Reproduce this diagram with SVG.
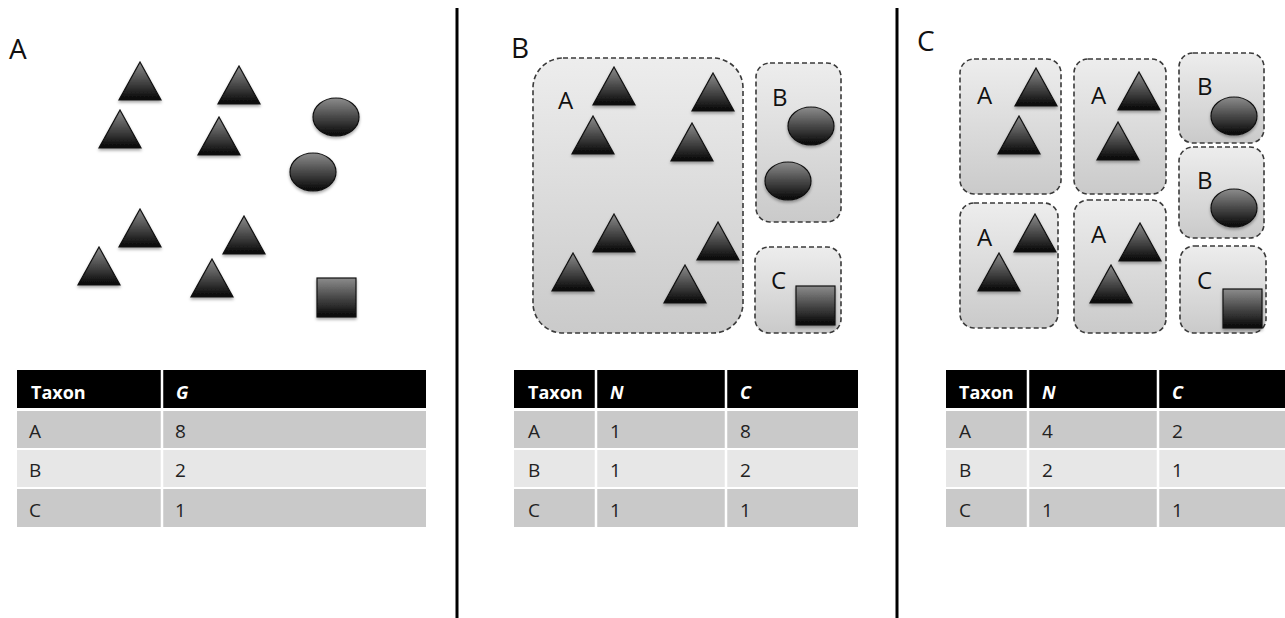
<svg xmlns="http://www.w3.org/2000/svg" xmlns:xlink="http://www.w3.org/1999/xlink" width="1285" height="618" viewBox="0 0 1285 618">
<defs>
<linearGradient id="gShape" x1="0" y1="0" x2="0" y2="1">
<stop offset="0" stop-color="#8c8c8c"/>
<stop offset="1" stop-color="#050505"/>
</linearGradient>
<linearGradient id="gBox" x1="0" y1="0" x2="0" y2="1">
<stop offset="0" stop-color="#ededed"/>
<stop offset="1" stop-color="#cacaca"/>
</linearGradient>
<filter id="sh" x="-20%" y="-20%" width="140%" height="150%">
<feDropShadow dx="0" dy="2" stdDeviation="1.5" flood-color="#000" flood-opacity="0.35"/>
</filter>
<path id="tri" d="M21,0 L42,38 L0,38 Z"/>
<ellipse id="ell" cx="0" cy="0" rx="23" ry="19"/>
<rect id="sq" x="0" y="0" width="39" height="39"/>
</defs>
<style>
.shape{fill:url(#gShape);stroke:#111;stroke-width:1.2;filter:url(#sh)}
.box{fill:url(#gBox);stroke:#3a3a3a;stroke-width:1.6;stroke-dasharray:5 3}
.lbl{font-family:"Open Sans","Liberation Sans",sans-serif;font-size:28px;fill:#111}
.blbl{font-family:"Open Sans","Liberation Sans",sans-serif;font-size:24px;fill:#111}
.th{font-family:"Open Sans","Liberation Sans",sans-serif;font-size:18px;font-weight:bold;fill:#fff}
.thi{font-family:"Open Sans","Liberation Sans",sans-serif;font-size:18px;font-weight:bold;font-style:italic;fill:#fff}
.td{font-family:"Open Sans","Liberation Sans",sans-serif;font-size:19px;fill:#222}
.hdr{fill:#000}
.r1{fill:#c9c9c9}
.r2{fill:#e7e7e7}
.sep{stroke:#fff;stroke-width:2.5}
.div{stroke:#000;stroke-width:3}
</style>
<rect width="1285" height="618" fill="#fff"/>

<g id="dividers">
<line class="div" x1="457" y1="8" x2="457" y2="618"/>
<line class="div" x1="897" y1="8" x2="897" y2="618"/>
</g>

<g id="panelA">
<text class="lbl" x="9" y="59">A</text>
<g id="panelA-shapes">
<use class="shape" href="#tri" x="119" y="62"/>
<use class="shape" href="#tri" x="218" y="66"/>
<use class="shape" href="#tri" x="99" y="110"/>
<use class="shape" href="#tri" x="198" y="117"/>
<use class="shape" href="#tri" x="119" y="209"/>
<use class="shape" href="#tri" x="223" y="216"/>
<use class="shape" href="#tri" x="78" y="247"/>
<use class="shape" href="#tri" x="191" y="259"/>
<use class="shape" href="#ell" x="336" y="117"/>
<use class="shape" href="#ell" x="313" y="172"/>
<use class="shape" href="#sq" x="317" y="278"/>
</g>
<g id="tableA">
<rect class="hdr" x="17" y="370" width="409" height="38"/>
<rect class="r1" x="17" y="411" width="409" height="37"/>
<rect class="r2" x="17" y="450" width="409" height="37"/>
<rect class="r1" x="17" y="489" width="409" height="38"/>
<line class="sep" x1="162" y1="370" x2="162" y2="527"/>
<text class="th" x="31" y="399">Taxon</text>
<text class="thi" x="176" y="399">G</text>
<text class="td" x="29" y="438">A</text><text class="td" x="175" y="438">8</text>
<text class="td" x="29" y="477">B</text><text class="td" x="175" y="477">2</text>
<text class="td" x="29" y="517">C</text><text class="td" x="175" y="517">1</text>
</g>
</g>

<g id="panelB">
<text class="lbl" x="511" y="58">B</text>
<g id="groupB-A">
<rect class="box" x="533" y="58" width="210" height="275" rx="30" ry="30"/>
<text class="blbl" x="558" y="109">A</text>
<use class="shape" href="#tri" x="593" y="67"/>
<use class="shape" href="#tri" x="692" y="73"/>
<use class="shape" href="#tri" x="572" y="116"/>
<use class="shape" href="#tri" x="671" y="123"/>
<use class="shape" href="#tri" x="593" y="214"/>
<use class="shape" href="#tri" x="697" y="222"/>
<use class="shape" href="#tri" x="552" y="253"/>
<use class="shape" href="#tri" x="664" y="265"/>
</g>
<g id="groupB-B">
<rect class="box" x="756" y="63" width="85" height="159" rx="14" ry="14"/>
<text class="blbl" x="772" y="106">B</text>
<use class="shape" href="#ell" x="811" y="126"/>
<use class="shape" href="#ell" x="788" y="181"/>
</g>
<g id="groupB-C">
<rect class="box" x="755" y="247" width="86" height="86" rx="14" ry="14"/>
<text class="blbl" x="771" y="289">C</text>
<use class="shape" href="#sq" x="796" y="286"/>
</g>
<g id="tableB">
<rect class="hdr" x="514" y="370" width="344" height="38"/>
<rect class="r1" x="514" y="411" width="344" height="37"/>
<rect class="r2" x="514" y="450" width="344" height="37"/>
<rect class="r1" x="514" y="489" width="344" height="38"/>
<line class="sep" x1="596" y1="370" x2="596" y2="527"/>
<line class="sep" x1="726" y1="370" x2="726" y2="527"/>
<text class="th" x="528" y="399">Taxon</text>
<text class="thi" x="610" y="399">N</text>
<text class="thi" x="740" y="399">C</text>
<text class="td" x="528" y="438">A</text><text class="td" x="610" y="438">1</text><text class="td" x="740" y="438">8</text>
<text class="td" x="528" y="477">B</text><text class="td" x="610" y="477">1</text><text class="td" x="740" y="477">2</text>
<text class="td" x="528" y="517">C</text><text class="td" x="610" y="517">1</text><text class="td" x="740" y="517">1</text>
</g>
</g>

<g id="panelC">
<text class="lbl" x="917" y="51">C</text>
<g id="groupC-A1">
<rect class="box" x="960" y="59" width="101" height="135" rx="14" ry="14"/>
<text class="blbl" x="977" y="104">A</text>
<use class="shape" href="#tri" x="1015" y="68"/>
<use class="shape" href="#tri" x="998" y="116"/>
</g>
<g id="groupC-A2">
<rect class="box" x="1074" y="59" width="92" height="135" rx="14" ry="14"/>
<text class="blbl" x="1091" y="104">A</text>
<use class="shape" href="#tri" x="1118" y="72"/>
<use class="shape" href="#tri" x="1097" y="122"/>
</g>
<g id="groupC-B1">
<rect class="box" x="1179" y="53" width="85" height="90" rx="14" ry="14"/>
<text class="blbl" x="1197" y="95">B</text>
<use class="shape" href="#ell" x="1234" y="116"/>
</g>
<g id="groupC-B2">
<rect class="box" x="1179" y="147" width="85" height="91" rx="14" ry="14"/>
<text class="blbl" x="1197" y="189">B</text>
<use class="shape" href="#ell" x="1234" y="208"/>
</g>
<g id="groupC-C">
<rect class="box" x="1180" y="246" width="86" height="87" rx="14" ry="14"/>
<text class="blbl" x="1197" y="289">C</text>
<use class="shape" href="#sq" x="1223" y="289"/>
</g>
<g id="groupC-A3">
<rect class="box" x="960" y="203" width="98" height="125" rx="14" ry="14"/>
<text class="blbl" x="977" y="246">A</text>
<use class="shape" href="#tri" x="1014" y="214"/>
<use class="shape" href="#tri" x="978" y="253"/>
</g>
<g id="groupC-A4">
<rect class="box" x="1074" y="200" width="92" height="133" rx="14" ry="14"/>
<text class="blbl" x="1091" y="243">A</text>
<use class="shape" href="#tri" x="1119" y="223"/>
<use class="shape" href="#tri" x="1090" y="265"/>
</g>
<g id="tableC">
<rect class="hdr" x="946" y="370" width="339" height="38"/>
<rect class="r1" x="946" y="411" width="339" height="37"/>
<rect class="r2" x="946" y="450" width="339" height="37"/>
<rect class="r1" x="946" y="489" width="339" height="38"/>
<line class="sep" x1="1028" y1="370" x2="1028" y2="527"/>
<line class="sep" x1="1158" y1="370" x2="1158" y2="527"/>
<text class="th" x="959" y="399">Taxon</text>
<text class="thi" x="1042" y="399">N</text>
<text class="thi" x="1172" y="399">C</text>
<text class="td" x="959" y="438">A</text><text class="td" x="1042" y="438">4</text><text class="td" x="1172" y="438">2</text>
<text class="td" x="959" y="477">B</text><text class="td" x="1042" y="477">2</text><text class="td" x="1172" y="477">1</text>
<text class="td" x="959" y="517">C</text><text class="td" x="1042" y="517">1</text><text class="td" x="1172" y="517">1</text>
</g>
</g>
</svg>
